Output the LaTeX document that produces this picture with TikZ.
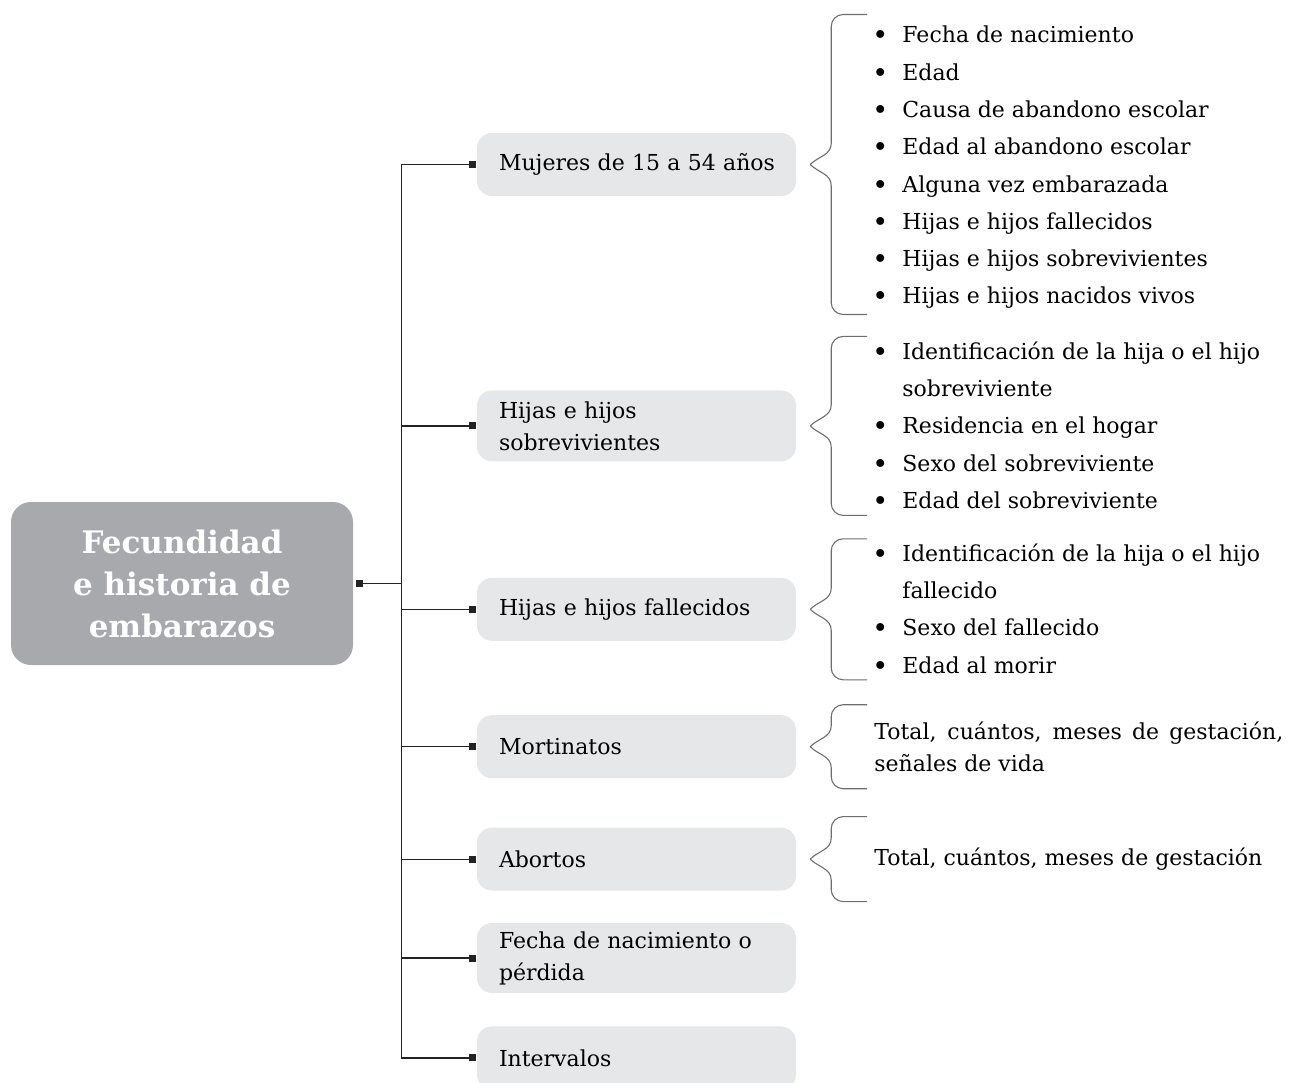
\documentclass[tikz,border=0pt]{standalone}
\usepackage{fontspec}
\setmainfont{DejaVu Serif}
\usetikzlibrary{arrows.meta, positioning, calc}
\definecolor{rootgray}{HTML}{A7A9AC}
\definecolor{boxgray}{HTML}{E6E7E8}
\definecolor{linegray}{HTML}{232323}
\definecolor{bracegray}{HTML}{6D6E71}
\newcommand{\itm}{\makebox[30pt][l]{\raisebox{-2pt}{\fontsize{27}{27}\selectfont\textbullet}}}
\newcommand{\cnt}{\hspace*{30pt}}

\begin{document}
\begin{tikzpicture}[x=1pt, y=1pt, node distance=30pt,
  root/.style={rectangle, rounded corners=20pt, fill=rootgray, text=white, minimum width=342pt, minimum height=163pt, font=\fontsize{31}{42}\selectfont\bfseries, align=center},
  branch/.style={rectangle, rounded corners=15pt, fill=boxgray, minimum width=319pt, minimum height=63pt, text width=275pt, inner xsep=22pt, inner ysep=0pt, font=\fontsize{22}{32}\selectfont, align=left},
  items/.style={inner sep=0pt, font=\fontsize{22}{37.3}\selectfont, align=left},
  note/.style={inner sep=0pt, font=\fontsize{22}{32}\selectfont, align=left},
  link/.style={draw=linegray, line width=1.2pt},
  brace/.style={draw=bracegray, line width=1.1pt},
  sq/.style={-{Square[length=7pt,width=7pt]}, shorten >=1pt}]

\useasboundingbox (0,0) rectangle (1298,-1082);

\node[root] (root) at (182,-583.5) {Fecundidad\\e historia de\\embarazos};

\node[branch] (b1) at (636.5,-164.5) {\mbox{Mujeres de 15 a 54 años}};
\node[branch, minimum height=71pt, below=194pt of b1] (b2) {Hijas e hijos\\sobrevivientes};
\node[branch, below=116pt of b2] (b3) {Hijas e hijos fallecidos};
\node[branch, below=74pt of b3] (b4) {Mortinatos};
\node[branch, below=49pt of b4] (b5) {Abortos};
\node[branch, minimum height=70pt, below=32pt of b5] (b6) {Fecha de nacimiento o\\pérdida};
\node[branch, below=33pt of b6] (b7) {Intervalos};

% tree connectors
\coordinate (hub) at ($(root.east)+(48,0)$);
\draw[link, {Square[length=7pt,width=7pt]}-, shorten <=3pt] (root.east) -- (hub);
\draw[link, sq] (hub) |- (b1.west);
\draw[link, sq] (hub) |- (b2.west);
\draw[link, sq] (hub) |- (b3.west);
\draw[link, sq] (hub) |- (b4.west);
\draw[link, sq] (hub) |- (b5.west);
\draw[link, sq] (hub) |- (b6.west);
\draw[link, sq] (hub) |- (b7.west);

% detail lists
\node[items, right=76pt of b1, yshift=-3pt] (l1) {\itm Fecha de nacimiento\\
  \itm Edad\\
  \itm Causa de abandono escolar\\
  \itm Edad al abandono escolar\\
  \itm Alguna vez embarazada\\
  \itm Hijas e hijos fallecidos\\
  \itm Hijas e hijos sobrevivientes\\
  \itm Hijas e hijos nacidos vivos};
\node[items, right=76pt of b2] (l2) {\itm Identificación de la hija o el hijo\\
  \cnt sobreviviente\\
  \itm Residencia en el hogar\\
  \itm Sexo del sobreviviente\\
  \itm Edad del sobreviviente};
\node[items, right=76pt of b3] (l3) {\itm Identificación de la hija o el hijo\\
  \cnt fallecido\\
  \itm Sexo del fallecido\\
  \itm Edad al morir};
\node[note, right=78pt of b4] (l4) {\makebox[409pt][s]{Total, cuántos, meses de gestación,}\\señales de vida};
\node[note, right=78pt of b5] (l5) {Total, cuántos, meses de gestación};

% braces
\draw[brace] ([xshift=14pt]b1.east) to[out=45,in=270] ++(21,21) [rounded corners=12pt] -- ++(0,129) -- ++(36,0);
\draw[brace] ([xshift=14pt]b1.east) to[out=-45,in=90] ++(21,-21) [rounded corners=12pt] -- ++(0,-129) -- ++(36,0);
\draw[brace] ([xshift=14pt]b2.east) to[out=45,in=270] ++(21,21) [rounded corners=12pt] -- ++(0,68.5) -- ++(36,0);
\draw[brace] ([xshift=14pt]b2.east) to[out=-45,in=90] ++(21,-21) [rounded corners=12pt] -- ++(0,-68.5) -- ++(36,0);
\draw[brace] ([xshift=14pt]b3.east) to[out=45,in=270] ++(21,21) [rounded corners=12pt] -- ++(0,49.5) -- ++(36,0);
\draw[brace] ([xshift=14pt]b3.east) to[out=-45,in=90] ++(21,-21) [rounded corners=12pt] -- ++(0,-49.5) -- ++(36,0);
\draw[brace] ([xshift=14pt]b4.east) to[out=45,in=270] ++(21,21) [rounded corners=12pt] -- ++(0,21) -- ++(36,0);
\draw[brace] ([xshift=14pt]b4.east) to[out=-45,in=90] ++(21,-21) [rounded corners=12pt] -- ++(0,-21) -- ++(36,0);
\draw[brace] ([xshift=14pt]b5.east) to[out=45,in=270] ++(21,21) [rounded corners=12pt] -- ++(0,21.5) -- ++(36,0);
\draw[brace] ([xshift=14pt]b5.east) to[out=-45,in=90] ++(21,-21) [rounded corners=12pt] -- ++(0,-21.5) -- ++(36,0);
\end{tikzpicture}
\end{document}
